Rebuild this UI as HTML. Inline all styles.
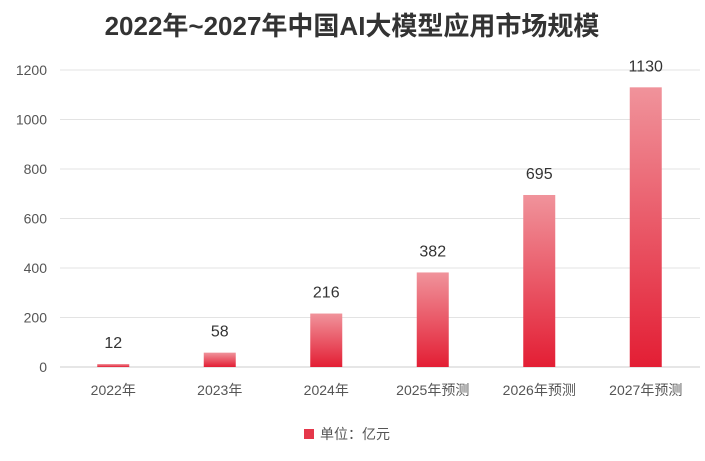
<!DOCTYPE html>
<html><head><meta charset="utf-8"><style>
body{margin:0;background:#fff;width:705px;height:456px;overflow:hidden}
text{font-family:"Liberation Sans","Noto Sans CJK SC",sans-serif}
</style></head><body>
<svg id="c" width="705" height="456">
<defs><linearGradient id="g" x1="0" y1="0" x2="0" y2="1"><stop offset="0" stop-color="#f0939b"/><stop offset="1" stop-color="#e31e34"/></linearGradient></defs>
<text x="352" y="35" text-anchor="middle" font-size="26" font-weight="bold" fill="#333">2022年~2027年中国AI大模型应用市场规模</text>
<g id="grid"></g><g id="bars"></g>
<rect x="304" y="429" width="10" height="10" fill="#e5374a"/>
<text x="320" y="439" font-size="14" fill="#555">单位：亿元</text>
</svg>
<script>
const categories=["2022年","2023年","2024年","2025年预测","2026年预测","2027年预测"];
const values=[12,58,216,382,695,1130];
const ticks=[0,200,400,600,800,1000,1200];
const NS="http://www.w3.org/2000/svg";
const y0=367,ppu=297/1200,left=60,step=106.5,bw=32;
const y=v=>y0-v*ppu, x=i=>left+step*(i+0.5);
function mk(t,a,p){const e=document.createElementNS(NS,t);for(const k in a)e.setAttribute(k,a[k]);p.appendChild(e);return e;}
const grid=document.getElementById('grid'),bars=document.getElementById('bars');
ticks.forEach(t=>{
 const l=mk('line',{x1:60,x2:700,y1:y(t),y2:y(t),stroke:t===0?'#ccc':'#e3e3e3','stroke-width':1},grid);
 
 
 const tx=mk('text',{x:47,y:y(t)+5,'text-anchor':'end','font-size':14,fill:'#555'},grid);tx.textContent=t;
 
 
});
categories.forEach((c,i)=>{
 const r=mk('rect',{x:x(i)-bw/2,y:y(values[i]),width:bw,height:values[i]*ppu,fill:'url(#g)'},bars);
 
 
 const v=mk('text',{x:x(i),y:y(values[i])-16,'text-anchor':'middle','font-size':16,fill:'#333'},bars);v.textContent=values[i];
 
 
 const xl=mk('text',{x:x(i),y:395,'text-anchor':'middle','font-size':14,fill:'#555'},bars);xl.textContent=c;
 
 
});
</script>
</body></html>
